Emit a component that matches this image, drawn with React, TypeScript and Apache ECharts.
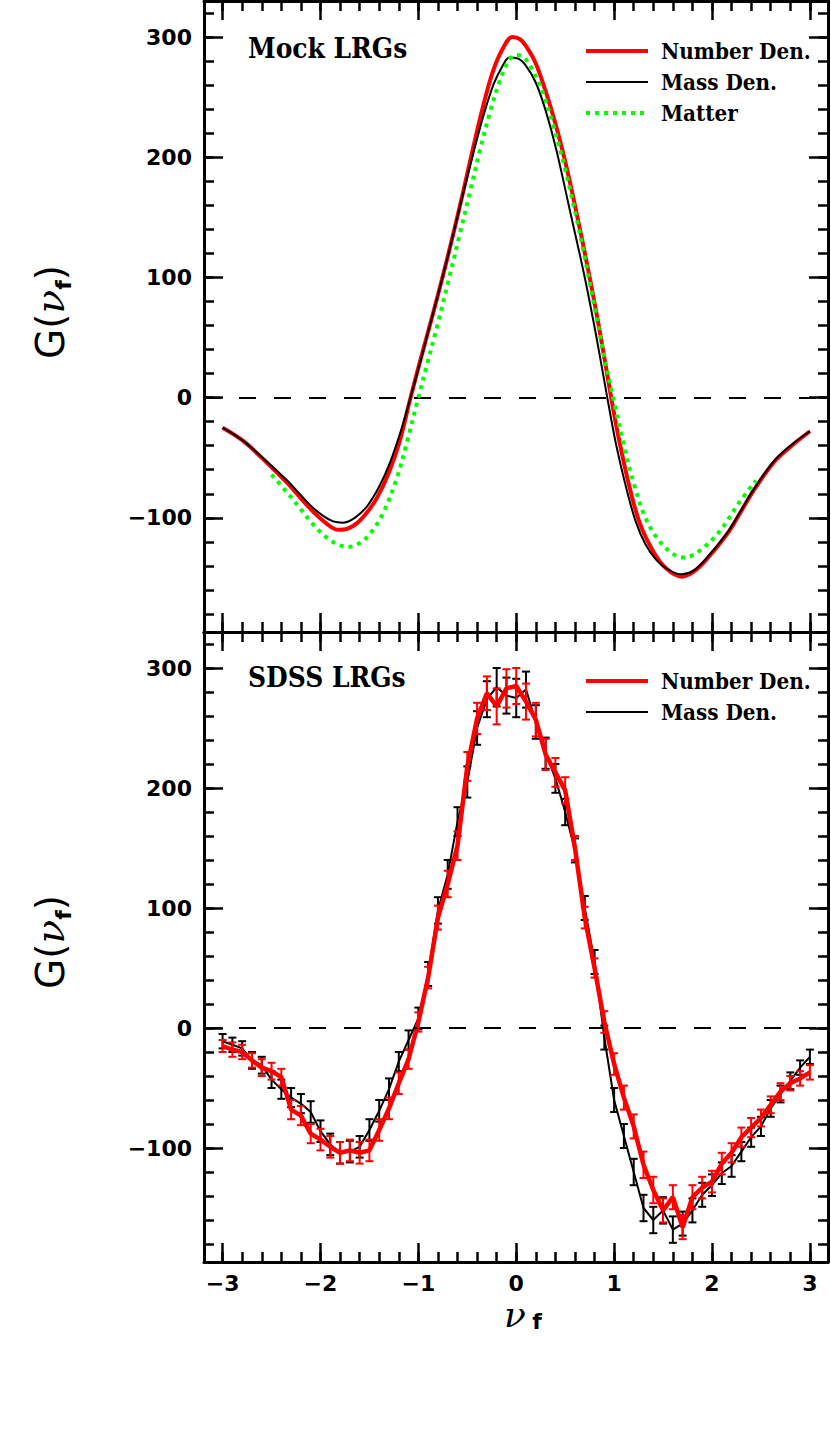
import React, { useEffect, useRef } from 'react';
import * as echarts from 'echarts';

const X_MIN = -3.19;
const X_MAX = 3.185;
const Y_MIN = -195;
const Y_MAX = 330;

const xMajorTicks = [-3, -2, -1, 0, 1, 2, 3];
const xMinorTicks = [-3, -2.8, -2.6, -2.4, -2.2, -2, -1.8, -1.6, -1.4, -1.2, -1, -0.8, -0.6, -0.4, -0.2, 0, 0.2, 0.4, 0.6, 0.8, 1, 1.2, 1.4, 1.6, 1.8, 2, 2.2, 2.4, 2.6, 2.8, 3];
const yMajorTicks = [-100, 0, 100, 200, 300];
const yMinorTicks = [-180, -160, -140, -120, -100, -80, -60, -40, -20, 0, 20, 40, 60, 80, 100, 120, 140, 160, 180, 200, 220, 240, 260, 280, 300, 320];

// Top panel: Mock LRGs
const mockNumberDen = [
  [-3.0, -25], [-2.79, -36], [-2.55, -54], [-2.34, -71], [-2.11, -92], [-1.95, -104], [-1.82, -110], [-1.72, -109],
  [-1.62, -104], [-1.52, -95], [-1.42, -83], [-1.3, -62], [-1.19, -36], [-1.08, 0], [-0.98, 31], [-0.87, 64],
  [-0.76, 98], [-0.65, 134], [-0.54, 172], [-0.44, 208], [-0.34, 242], [-0.24, 271], [-0.14, 290], [-0.04, 300],
  [0.04, 298], [0.12, 290], [0.2, 278], [0.3, 255], [0.4, 228], [0.49, 200], [0.6, 160], [0.75, 100],
  [0.86, 52], [0.97, 0], [1.05, -35], [1.15, -72], [1.26, -104], [1.4, -128], [1.53, -142], [1.69, -149],
  [1.81, -145], [1.94, -135], [2.15, -114], [2.28, -97], [2.42, -78], [2.63, -54], [2.8, -41], [3.0, -28]
];
const mockMassDen = [
  [-3.0, -25], [-2.79, -36], [-2.55, -53], [-2.34, -69], [-2.11, -89], [-1.98, -98], [-1.87, -103], [-1.77, -104],
  [-1.65, -100], [-1.52, -90], [-1.4, -74], [-1.29, -54], [-1.18, -28], [-1.07, 3], [-0.97, 33], [-0.86, 67],
  [-0.75, 101], [-0.64, 137], [-0.53, 174], [-0.43, 206], [-0.33, 236], [-0.23, 261], [-0.14, 276], [-0.07, 283],
  [0.02, 282], [0.1, 276], [0.2, 262], [0.3, 239], [0.41, 206], [0.55, 155], [0.7, 100], [0.82, 50],
  [0.93, 0], [1.02, -39], [1.12, -74], [1.22, -103], [1.32, -122], [1.43, -135], [1.55, -143], [1.69, -147],
  [1.81, -144], [1.94, -134], [2.15, -113], [2.28, -96], [2.42, -77], [2.63, -53], [2.8, -40], [3.0, -28]
];
const mockMatter = [
  [-2.5, -64], [-2.35, -78], [-2.21, -92], [-2.08, -105], [-1.93, -117], [-1.8, -123], [-1.7, -124], [-1.6, -121],
  [-1.49, -113], [-1.36, -96], [-1.22, -67], [-1.11, -35], [-1.01, -3], [-0.91, 28], [-0.8, 62], [-0.69, 98],
  [-0.58, 135], [-0.47, 172], [-0.37, 206], [-0.27, 237], [-0.17, 263], [-0.08, 280], [0.0, 285], [0.08, 283],
  [0.17, 272], [0.27, 254], [0.38, 226], [0.5, 190], [0.63, 144], [0.77, 88], [0.9, 34], [1.0, -4],
  [1.1, -40], [1.21, -74], [1.32, -100], [1.45, -118], [1.6, -130], [1.72, -133], [1.88, -127], [2.08, -111],
  [2.28, -87], [2.45, -69]
];

// Bottom panel: SDSS LRGs
const sdssX = [
  -3.0, -2.9, -2.8, -2.7, -2.6, -2.5, -2.4, -2.3, -2.2, -2.1, -2.0, -1.9, -1.8, -1.7, -1.6, -1.5, -1.4, -1.3, -1.2, -1.1,
  -1.0, -0.9, -0.8, -0.7, -0.6, -0.5, -0.4, -0.3, -0.2, -0.1, 0.0, 0.1, 0.2, 0.3, 0.4, 0.5, 0.6, 0.7, 0.8, 0.9,
  1.0, 1.1, 1.2, 1.3, 1.4, 1.5, 1.6, 1.7, 1.8, 1.9, 2.0, 2.1, 2.2, 2.3, 2.4, 2.5, 2.6, 2.7, 2.8, 2.9, 3.0
];
const sdssNumberDen = [
  -15, -18, -20, -27, -33, -36, -41, -68, -73, -88, -93, -99, -104, -102, -104, -102, -85, -67, -46, -26,
  5, 42, 92, 120, 152, 218, 258, 279, 268, 283, 285, 272, 257, 228, 213, 198, 150, 92, 50, 5,
  -30, -58, -82, -114, -135, -152, -141, -166, -141, -133, -128, -113, -104, -91, -83, -75, -64, -53, -46, -42, -37
];
const sdssNumberErr = [
  5, 6, 6, 6, 7, 7, 7, 8, 8, 8, 9, 9, 9, 9, 9, 9, 9, 9, 9, 8,
  8, 9, 10, 11, 12, 12, 13, 14, 15, 16, 15, 15, 14, 13, 12, 11, 10, 9, 8, 9,
  9, 10, 10, 11, 11, 10, 10, 10, 10, 9, 9, 9, 8, 8, 8, 7, 7, 7, 6, 6, 6
];
const sdssMassDen = [
  -11, -14, -17, -27, -31, -43, -51, -58, -63, -70, -86, -97, -104, -103, -99, -85, -69, -51, -28, -10,
  8, 45, 98, 128, 172, 205, 250, 274, 284, 277, 275, 282, 255, 229, 208, 180, 148, 100, 55, -8,
  -60, -90, -120, -150, -160, -152, -168, -163, -152, -139, -131, -121, -115, -103, -91, -82, -67, -55, -44, -33, -24
];
const sdssMassErr = [
  6, 6, 6, 7, 7, 7, 8, 8, 8, 9, 9, 9, 9, 9, 9, 9, 9, 9, 8, 8,
  9, 10, 11, 12, 12, 13, 14, 15, 16, 15, 16, 15, 14, 13, 12, 11, 10, 10, 10, 10,
  10, 10, 11, 11, 11, 11, 11, 10, 10, 10, 9, 9, 9, 8, 8, 8, 7, 7, 7, 6, 6
];

const RED = '#ff0000';
const BLACK = '#000000';
const GREEN = '#00ff00';
const TICK_FONT = 'DejaVu Sans';
const TEXT_FONT = 'DejaVu Serif';

const fmt = (v: number) => (v < 0 ? '\u2212' + Math.abs(v) : String(v));

function makeXAxes(grid: number, labels: boolean) {
  const base: any = {
    type: 'value', gridIndex: grid, min: X_MIN, max: X_MAX,
    splitLine: { show: false }, minorTick: { show: false }, minorSplitLine: { show: false },
  };
  const tickStyle = { color: BLACK, width: 2.5 };
  return [
    {
      ...base, position: 'bottom',
      axisLine: { show: true, onZero: false, lineStyle: { color: BLACK, width: 3 } },
      axisTick: { show: true, inside: true, length: 19, customValues: xMajorTicks, lineStyle: tickStyle },
      axisLabel: {
        show: labels, customValues: xMajorTicks, formatter: fmt, margin: 10, color: BLACK,
        fontFamily: TICK_FONT, fontWeight: 'bold', fontSize: 22, lineHeight: 22,
      },
    },
    {
      ...base, position: 'bottom',
      axisLine: { show: false, onZero: false },
      axisTick: { show: true, inside: true, length: 10, customValues: xMinorTicks, lineStyle: tickStyle },
      axisLabel: { show: false },
    },
    {
      ...base, position: 'top',
      axisLine: { show: true, onZero: false, lineStyle: { color: BLACK, width: 3 } },
      axisTick: { show: true, inside: true, length: 19, customValues: xMajorTicks, lineStyle: tickStyle },
      axisLabel: { show: false },
    },
    {
      ...base, position: 'top',
      axisLine: { show: false, onZero: false },
      axisTick: { show: true, inside: true, length: 10, customValues: xMinorTicks, lineStyle: tickStyle },
      axisLabel: { show: false },
    },
  ];
}

function makeYAxes(grid: number) {
  const base: any = {
    type: 'value', gridIndex: grid, min: Y_MIN, max: Y_MAX,
    splitLine: { show: false }, minorTick: { show: false }, minorSplitLine: { show: false },
  };
  const tickStyle = { color: BLACK, width: 2.5 };
  return [
    {
      ...base, position: 'left',
      axisLine: { show: true, onZero: false, lineStyle: { color: BLACK, width: 3 } },
      axisTick: { show: true, inside: true, length: 19, customValues: yMajorTicks, lineStyle: tickStyle },
      axisLabel: {
        show: true, customValues: yMajorTicks, formatter: fmt, margin: 12, color: BLACK,
        fontFamily: TICK_FONT, fontWeight: 'bold', fontSize: 22,
      },
    },
    {
      ...base, position: 'left',
      axisLine: { show: false, onZero: false },
      axisTick: { show: true, inside: true, length: 10, customValues: yMinorTicks, lineStyle: tickStyle },
      axisLabel: { show: false },
    },
    {
      ...base, position: 'right',
      axisLine: { show: true, onZero: false, lineStyle: { color: BLACK, width: 3 } },
      axisTick: { show: true, inside: true, length: 19, customValues: yMajorTicks, lineStyle: tickStyle },
      axisLabel: { show: false },
    },
    {
      ...base, position: 'right',
      axisLine: { show: false, onZero: false },
      axisTick: { show: true, inside: true, length: 10, customValues: yMinorTicks, lineStyle: tickStyle },
      axisLabel: { show: false },
    },
  ];
}

const zeroLine = {
  silent: true,
  symbol: ['none', 'none'],
  label: { show: false },
  lineStyle: { color: BLACK, width: 2, type: [17, 18] },
  data: [{ yAxis: 0 }],
};

function errorBars(xs: number[], ys: number[], errs: number[], color: string, axisIdx: number, z: number) {
  return {
    type: 'custom',
    xAxisIndex: axisIdx,
    yAxisIndex: axisIdx,
    z,
    silent: true,
    encode: { x: 0, y: 1 },
    data: xs.map((x, i) => [x, ys[i], errs[i]]),
    renderItem: (_params: any, api: any) => {
      const x = api.value(0);
      const y = api.value(1);
      const e = api.value(2);
      const p1 = api.coord([x, y + e]);
      const p2 = api.coord([x, y - e]);
      const hw = 4;
      const st = { stroke: color, lineWidth: 2 };
      return {
        type: 'group',
        children: [
          { type: 'line', shape: { x1: p1[0], y1: p1[1], x2: p2[0], y2: p2[1] }, style: st },
          { type: 'line', shape: { x1: p1[0] - hw, y1: p1[1], x2: p1[0] + hw, y2: p1[1] }, style: st },
          { type: 'line', shape: { x1: p2[0] - hw, y1: p2[1], x2: p2[0] + hw, y2: p2[1] }, style: st },
        ],
      };
    },
  };
}

function legendText(text: string, x: number, y: number) {
  return {
    type: 'text', x, y, scaleY: 1.12,
    style: {
      text, fill: BLACK, font: `bold 20px "${TEXT_FONT}"`,
      align: 'left', verticalAlign: 'middle', textAlign: 'left', textVerticalAlign: 'middle',
    },
  };
}

function legendLine(x1: number, x2: number, y: number, color: string, width: number, dash?: number[]) {
  return {
    type: 'line',
    shape: { x1, y1: y, x2, y2: y },
    style: { stroke: color, lineWidth: width, lineDash: dash || null },
  };
}

function yName(cx: number, cy: number) {
  return {
    type: 'text', x: cx, y: cy, rotation: Math.PI / 2,
    style: {
      text: '{g|G(}{n|\u03bd}{s|f}{g|)}',
      align: 'center', verticalAlign: 'middle', textAlign: 'center', textVerticalAlign: 'middle',
      rich: {
        g: { fontFamily: TICK_FONT, fontSize: 39, fill: BLACK, color: BLACK, lineHeight: 48, verticalAlign: 'middle' },
        n: { fontFamily: TEXT_FONT, fontStyle: 'italic', fontSize: 39, fill: BLACK, color: BLACK, lineHeight: 48, verticalAlign: 'middle' },
        s: { fontFamily: TICK_FONT, fontWeight: 'bold', fontSize: 22, fill: BLACK, color: BLACK, lineHeight: 48, verticalAlign: 'bottom' },
      },
    },
  };
}

export default function App() {
  const ref = useRef<HTMLDivElement>(null);
  useEffect(() => {
    if (!ref.current) return;
    const chart = echarts.init(ref.current, undefined, { renderer: 'svg' });
    const option: any = {
      animation: false,
      backgroundColor: '#ffffff',
      grid: [
        { left: 204, top: 1, width: 624, height: 631 },
        { left: 204, top: 632, width: 624, height: 630 },
      ],
      xAxis: [...makeXAxes(0, false), ...makeXAxes(1, true)],
      yAxis: [...makeYAxes(0), ...makeYAxes(1)],
      series: [
        {
          type: 'line', xAxisIndex: 0, yAxisIndex: 0, data: mockNumberDen, smooth: 0.35, showSymbol: false,
          lineStyle: { color: RED, width: 4 }, z: 3, markLine: zeroLine,
        },
        {
          type: 'line', xAxisIndex: 0, yAxisIndex: 0, data: mockMassDen, smooth: 0.35, showSymbol: false,
          lineStyle: { color: BLACK, width: 2 }, z: 4,
        },
        {
          type: 'line', xAxisIndex: 0, yAxisIndex: 0, data: mockMatter, smooth: 0.35, showSymbol: false,
          lineStyle: { color: GREEN, width: 4, type: [4, 5] }, z: 5,
        },
        {
          type: 'line', xAxisIndex: 4, yAxisIndex: 4, data: sdssX.map((x, i) => [x, sdssMassDen[i]]),
          showSymbol: false, lineStyle: { color: BLACK, width: 2 }, z: 2, markLine: zeroLine,
        },
        errorBars(sdssX, sdssMassDen, sdssMassErr, BLACK, 4, 3),
        {
          type: 'line', xAxisIndex: 4, yAxisIndex: 4, data: sdssX.map((x, i) => [x, sdssNumberDen[i]]),
          showSymbol: false, lineStyle: { color: RED, width: 4.5 }, z: 4,
        },
        errorBars(sdssX, sdssNumberDen, sdssNumberErr, RED, 4, 5),
      ],
      graphic: [
        {
          type: 'text', x: 248, y: 49, scaleY: 1.08,
          style: { text: 'Mock LRGs', fill: BLACK, font: `bold 25px "${TEXT_FONT}"`, align: 'left', verticalAlign: 'middle', textAlign: 'left', textVerticalAlign: 'middle' },
        },
        {
          type: 'text', x: 248, y: 678, scaleY: 1.08,
          style: { text: 'SDSS LRGs', fill: BLACK, font: `bold 25px "${TEXT_FONT}"`, align: 'left', verticalAlign: 'middle', textAlign: 'left', textVerticalAlign: 'middle' },
        },
        legendLine(586, 648, 51, RED, 4),
        legendText('Number Den.', 661, 51),
        legendLine(586, 648, 82, BLACK, 2),
        legendText('Mass Den.', 661, 82),
        legendLine(586, 648, 113, GREEN, 4, [4, 5]),
        legendText('Matter', 661, 113),
        legendLine(586, 648, 681, RED, 4),
        legendText('Number Den.', 661, 681),
        legendLine(586, 648, 712, BLACK, 2),
        legendText('Mass Den.', 661, 712),
        yName(50, 312),
        yName(50, 942),
        {
          type: 'text', x: 515, y: 1314,
          style: {
            text: '\u03bd', fill: BLACK, font: `italic 36px "${TEXT_FONT}"`, lineHeight: 18,
            align: 'center', verticalAlign: 'middle', textAlign: 'center', textVerticalAlign: 'middle',
          },
        },
        {
          type: 'text', x: 537, y: 1321,
          style: {
            text: 'f', fill: BLACK, font: `bold 22px "${TICK_FONT}"`, lineHeight: 18,
            align: 'center', verticalAlign: 'middle', textAlign: 'center', textVerticalAlign: 'middle',
          },
        },
      ],
    };
    chart.setOption(option);
    return () => chart.dispose();
  }, []);
  return (
    <div
      ref={ref}
      style={{ position: 'absolute', left: 0, top: 0, width: 831, height: 1443, background: '#fff' }}
    />
  );
}
